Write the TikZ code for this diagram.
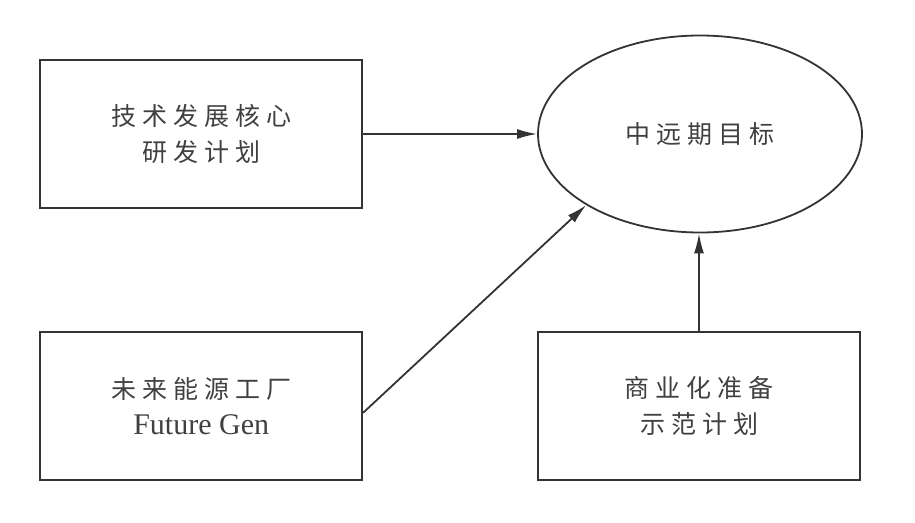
\documentclass[tikz,border=0pt]{standalone}
\usepackage{fontspec}
\setmainfont{Liberation Serif}
\newfontfamily\cjk[LetterSpace=24]{Noto Sans CJK SC}
\usepackage{tikz}
\usetikzlibrary{arrows.meta,positioning,shapes.geometric}
\definecolor{inkgray}{HTML}{333333}
\definecolor{textgray}{HTML}{404040}
\tikzset{
  block/.style={
    draw=inkgray,
    line width=1.8pt,
    align=center,
    text=textgray,
    inner sep=0pt,
    minimum width=322pt,
    minimum height=148pt
  },
  line/.style={
    -{Latex[length=20pt,width=10pt]},
    draw=inkgray,
    line width=1.8pt
  },
  target/.style={
    draw=inkgray,
    ellipse,
    line width=1.8pt,
    align=center,
    text=textgray,
    inner sep=0pt,
    minimum width=324pt,
    minimum height=197pt
  }
}

\begin{document}
\begin{tikzpicture}[x=1pt, y=-1pt,
  font=\fontsize{25}{36}\selectfont, node distance=122pt and 174pt]
  \useasboundingbox (0,0) rectangle (915,522);

  \node[target] (goal) at (700,134) {\cjk 中远期目标};
  \node[block, left=of goal] (core) {\cjk 技术发展核心\\\cjk 研发计划};
  \node[block, below=of core] (future) {\cjk 未来能源工厂\\
    {\fontsize{30}{36}\selectfont Future Gen}};
  \node[block, right=of future] (demo) {\cjk 商业化准备\\\cjk 示范计划};

  \draw[line] (core) -- (goal);
  \draw[line] ([yshift=-7pt]future.east) -- (goal.212);
  \draw[line] (demo.north) -- (demo.north |- goal.south);
\end{tikzpicture}
\end{document}
